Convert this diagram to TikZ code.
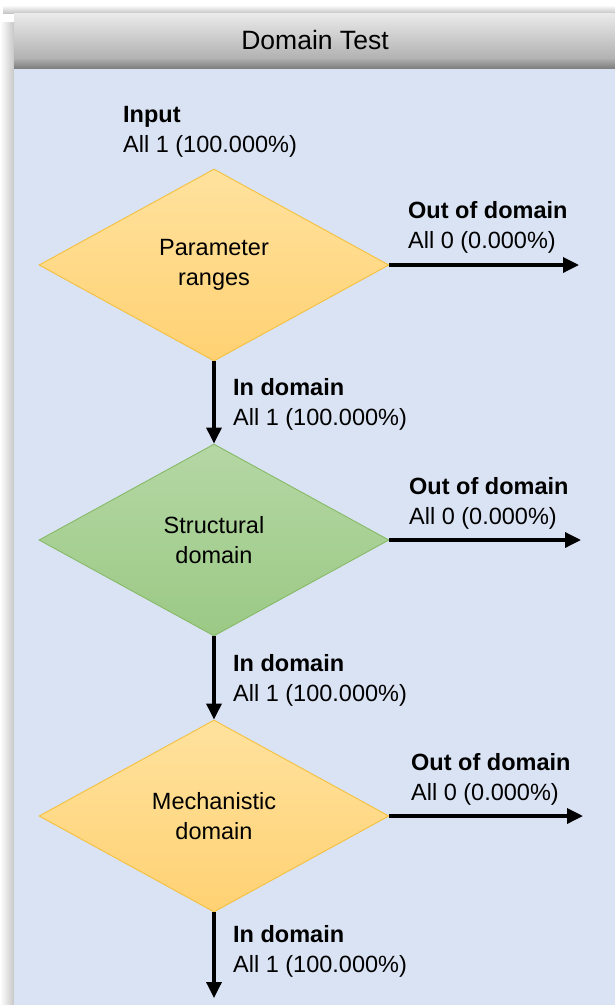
\documentclass[tikz,border=0pt]{standalone}
\usepackage{fontspec}
\setmainfont{Liberation Sans}
\usetikzlibrary{shapes.geometric,arrows.meta}
\definecolor{panelbg}{HTML}{DAE3F3}
\definecolor{yelltop}{HTML}{FFE29E}
\definecolor{yellbot}{HTML}{FFD173}
\definecolor{yelledge}{HTML}{F4C03E}
\definecolor{greentop}{HTML}{B5D7A4}
\definecolor{greenbot}{HTML}{9BC985}
\definecolor{greenedge}{HTML}{86BA67}
\tikzset{
  dec/.style={diamond, aspect=1.818, minimum width=350pt, minimum height=192pt, inner sep=0pt, align=center, font=\fontsize{23.5}{30}\selectfont, line width=0.9pt},
  yell/.style={dec, draw=yelledge, top color=yelltop, bottom color=yellbot},
  green/.style={dec, draw=greenedge, top color=greentop, bottom color=greenbot},
  flow/.style={-{Triangle[length=16pt,width=15pt]}, line width=3.4pt, black},
  lab/.style={anchor=base west, align=left, inner sep=0pt, font=\fontsize{23.5}{30}\selectfont},
}
\begin{document}
\begin{tikzpicture}[x=1pt,y=-1pt]
\useasboundingbox (0,0) rectangle (615,1005);
\fill[white] (0,0) rectangle (615,1005);
% left shadow strip
\shade[left color=white, right color=black!22] (0,22) rectangle (14,1005);
\shade[top color=white, bottom color=black!22] (3,5) rectangle (615,13);
% panel
\fill[panelbg] (14,68) rectangle (615,1005);
% header
\shade[top color=black!8, bottom color=black!30] (14,13) rectangle (615,58);
\shade[top color=black!30, bottom color=black!50] (14,58) rectangle (615,68);
\node[font=\fontsize{26.5}{30}\selectfont] (title) at (315,40) {Domain Test};
% diamonds
\node[yell]  (d1) at (214,265) {Parameter\\ranges};
\node[green] (d2) at (214,540) {Structural\\domain};
\node[yell]  (d3) at (214,816) {Mechanistic\\domain};
% free ends
\coordinate (o1) at (579,265);
\coordinate (o2) at (581,540);
\coordinate (o3) at (583,816);
\coordinate (e3) at (214,998);
% connectors
\draw[flow] (d1.east) -- (o1);
\draw[flow] (d2.east) -- (o2);
\draw[flow] (d3.east) -- (o3);
\draw[flow] (d1.south) -- (d2.north);
\draw[flow] (d2.south) -- (d3.north);
\draw[flow] (d3.south) -- (e3);
% labels (anchor = baseline of the second line)
\node[lab] (lin) at (123,152) {\textbf{Input}\\All 1 (100.000\%)};
\node[lab] (lo1) at (408,248) {\textbf{Out of domain}\\All 0 (0.000\%)};
\node[lab] (li1) at (233,425) {\textbf{In domain}\\All 1 (100.000\%)};
\node[lab] (lo2) at (409,524) {\textbf{Out of domain}\\All 0 (0.000\%)};
\node[lab] (li2) at (233,701) {\textbf{In domain}\\All 1 (100.000\%)};
\node[lab] (lo3) at (411,800) {\textbf{Out of domain}\\All 0 (0.000\%)};
\node[lab] (li3) at (233,972) {\textbf{In domain}\\All 1 (100.000\%)};
\end{tikzpicture}
\end{document}
